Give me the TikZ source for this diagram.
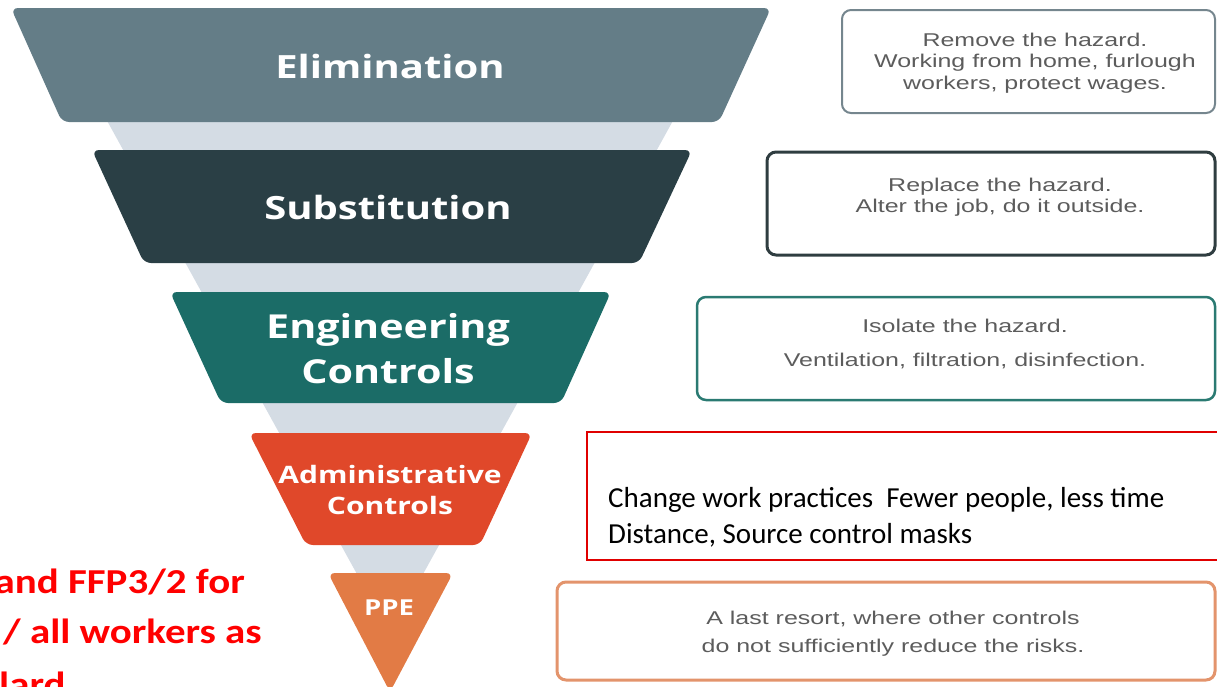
\documentclass[tikz,border=0pt]{standalone}
\usepackage{fontspec}
\setmainfont{Liberation Sans}
\newfontfamily\labfont{Open Sans}
\newfontfamily\calfont{Carlito}
\definecolor{band}{HTML}{D4DCE4}
\definecolor{elimc}{HTML}{647D87}
\definecolor{substc}{HTML}{2A3F45}
\definecolor{engc}{HTML}{1B6C67}
\definecolor{adminc}{HTML}{E0482A}
\definecolor{ppec}{HTML}{E27B45}
\definecolor{descgray}{HTML}{5C5C5C}
\definecolor{bordA}{HTML}{75868E}
\definecolor{bordB}{HTML}{2F3D40}
\definecolor{bordC}{HTML}{2A7A72}
\definecolor{bordD}{HTML}{E00000}
\definecolor{bordE}{HTML}{E3946C}
\definecolor{redtxt}{HTML}{FF0000}
\begin{document}
\begin{tikzpicture}[x=1pt,y=-1pt,
  tier/.style={rounded corners=7pt},
  lab/.style={text=white,align=center,xscale=1.25,inner sep=0pt},
  desc/.style={text=descgray,align=center,xscale=1.35,inner sep=0pt},
  rbox/.style={rounded corners=9pt},
  redlab/.style={inner sep=0pt,text=redtxt,xscale=1.17,font=\calfont\bfseries\fontsize{35}{46}\selectfont},
]
\useasboundingbox (0,0) rectangle (1217,686);
\clip (0,0) rectangle (1217,686);
% background funnel
\fill[band] (46,10) -- (734,10) -- (390,634) -- cycle;
% tiers
\fill[elimc,tier] (11,8) -- (771,8) -- (719,122) -- (62,122) -- cycle;
\fill[substc,tier] (92,150) -- (692,150) -- (639,263) -- (144,263) -- cycle;
\fill[engc,tier] (170,292) -- (611,292) -- (561,403) -- (221,403) -- cycle;
\fill[adminc,tier] (249,433) -- (532,433) -- (480,545) -- (306,545) -- cycle;
\fill[ppec,tier] (328,573) -- (453,573) -- (390,692) -- cycle;
% tier labels
\node[lab,font=\labfont\bfseries\fontsize{32}{36}\selectfont] (lelim) at (390,66) {Elimination};
\node[lab,font=\labfont\bfseries\fontsize{32}{36}\selectfont] (lsubst) at (388,207) {Substitution};
\node[lab,font=\labfont\bfseries\fontsize{33}{45}\selectfont] (leng) at (388,349) {Engineering\\Controls};
\node[lab,font=\labfont\bfseries\fontsize{24}{31}\selectfont] (ladmin) at (390,490) {Administrative\\Controls};
\node[lab,font=\labfont\bfseries\fontsize{22}{26}\selectfont] (lppe) at (389,608) {PPE};
% right boxes
\draw[bordA,line width=2pt,rbox] (842,10) rectangle (1215,113);
\node[desc,font=\fontsize{18.5}{21.5}\selectfont] (d1) at (1035,63) {Remove the hazard.\\Working from home, furlough\\workers, protect wages.};
\draw[bordB,line width=3pt,rbox] (767,152) rectangle (1215,255);
\node[desc,font=\fontsize{18.5}{21.5}\selectfont] (d2) at (1000,197) {Replace the hazard.\\Alter the job, do it outside.};
\draw[bordC,line width=2.5pt,rbox] (697,297) rectangle (1215,400);
\node[desc,font=\fontsize{18.5}{34}\selectfont] (d3) at (965,344) {Isolate the hazard.\\Ventilation, filtration, disinfection.};
\draw[bordD,line width=1.5pt] (587,432) rectangle (1222,560);
\node[anchor=base west,align=left,inner sep=0pt,font=\calfont\fontsize{29}{36}\selectfont] (d4) at (608,543) {Change work practices\ \ Fewer people, less time\\Distance, Source control masks};
\draw[bordE,line width=3pt,rbox] (557,582) rectangle (1215,680);
\node[desc,font=\fontsize{18.5}{28}\selectfont] (d5) at (893,634) {A last resort, where other controls\\do not sufficiently reduce the risks.};
% red left text
\node[redlab,anchor=base east] (r1) at (245,593) {and FFP3/2 for};
\node[redlab,anchor=base east] (r2) at (262,643) {/ all workers as};
\node[redlab,anchor=base west] (r3) at (-1,696) {lard};
\end{tikzpicture}
\end{document}
